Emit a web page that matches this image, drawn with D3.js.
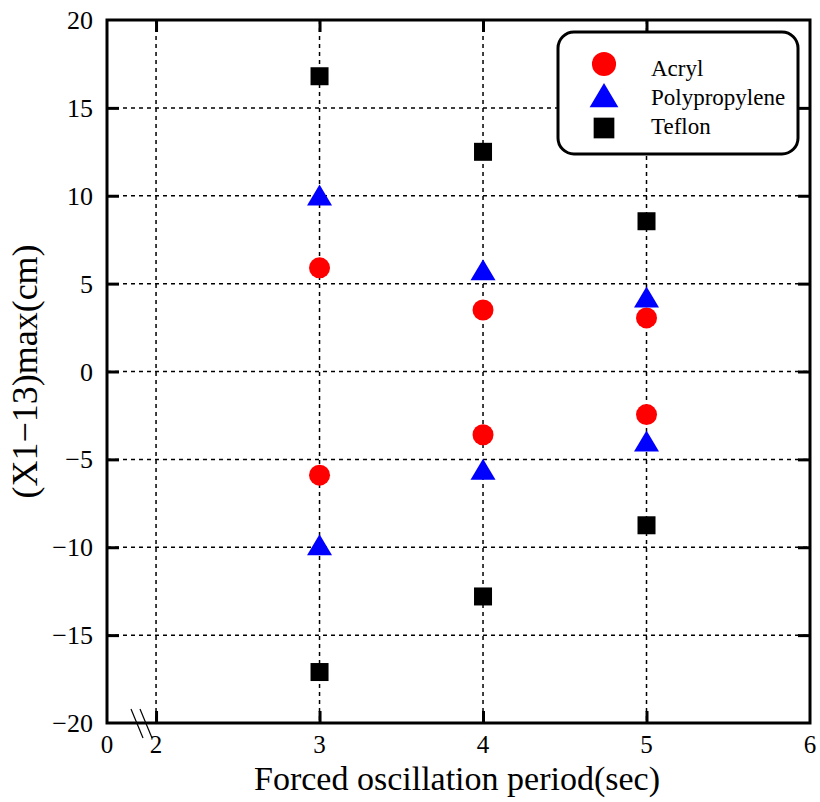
<!DOCTYPE html>
<html>
<head>
<meta charset="utf-8">
<script src="https://cdn.jsdelivr.net/npm/d3@7"></script>
<style>
  body { margin: 0; background: #fff; }
  svg text { font-family: "Liberation Serif", "DejaVu Serif", serif; }
</style>
</head>
<body>
<div id="chart"></div>
<script>
// periods and peak amplitudes (positive and negative side)
const periods = [3, 4, 5];
const acrylPos = [5.9, 3.5, 3.05];
const acrylNeg = [-5.9, -3.6, -2.45];
const polyPos = [9.9, 5.65, 4.1];
const polyNeg = [-10.0, -5.7, -4.1];
const teflonPos = [16.8, 12.5, 8.55];
const teflonNeg = [-17.1, -12.8, -8.75];

const xTicks = [2, 3, 4, 5, 6];
const yTicks = [-20, -15, -10, -5, 0, 5, 10, 15, 20];
const series = [
  {name: "Acryl", color: "red", shape: "circle", pos: acrylPos, neg: acrylNeg},
  {name: "Polypropylene", color: "blue", shape: "triangle", pos: polyPos, neg: polyNeg},
  {name: "Teflon", color: "black", shape: "square", pos: teflonPos, neg: teflonNeg}
];

const W = 820, H = 802;
const m = {left: 107, right: 10, top: 20, bottom: 79};
const svg = d3.select("#chart").append("svg").attr("width", W).attr("height", H);

const x = d3.scaleLinear().domain([1.7, 6]).range([m.left, W - m.right]);
const y = d3.scaleLinear().domain([-20, 20]).range([H - m.bottom, m.top]);

// dashed grid
svg.append("g").selectAll("line").data(xTicks.filter(d => d < 6)).enter().append("line")
  .attr("x1", d => x(d)).attr("x2", d => x(d))
  .attr("y1", y(20)).attr("y2", y(-20))
  .attr("stroke", "#000").attr("stroke-width", 1.5).attr("stroke-dasharray", "4,4");
svg.append("g").selectAll("line").data(yTicks.filter(d => d > -20 && d < 20)).enter().append("line")
  .attr("x1", x(1.7)).attr("x2", x(6))
  .attr("y1", d => y(d)).attr("y2", d => y(d))
  .attr("stroke", "#000").attr("stroke-width", 1.5).attr("stroke-dasharray", "4,4");

// axes with inward ticks, mirrored on top/right
const tl = 12;
svg.append("g").attr("transform", `translate(0,${y(-20)})`)
  .call(d3.axisBottom(x).tickValues(xTicks.slice(0, 4)).tickSize(-tl).tickFormat(""))
  .call(g => g.select(".domain").remove());
svg.append("g").attr("transform", `translate(0,${y(20)})`)
  .call(d3.axisTop(x).tickValues(xTicks.slice(0, 4)).tickSize(-tl).tickFormat(""))
  .call(g => g.select(".domain").remove());
svg.append("g").attr("transform", `translate(${x(1.7)},0)`)
  .call(d3.axisLeft(y).tickValues(yTicks.slice(1, -1)).tickSize(-tl).tickFormat(""))
  .call(g => g.select(".domain").remove());
svg.append("g").attr("transform", `translate(${x(6)},0)`)
  .call(d3.axisRight(y).tickValues(yTicks.slice(1, -1)).tickSize(-tl).tickFormat(""))
  .call(g => g.select(".domain").remove());
svg.selectAll(".tick line").attr("stroke", "#000").attr("stroke-width", 3);

// frame
svg.append("rect")
  .attr("x", x(1.7)).attr("y", y(20))
  .attr("width", x(6) - x(1.7)).attr("height", y(-20) - y(20))
  .attr("fill", "none").attr("stroke", "#000").attr("stroke-width", 3);

// tick labels
const xLabels = [{v: 1.7, t: "0"}].concat(xTicks.map(v => ({v: v, t: String(v)})));
svg.append("g").selectAll("text").data(xLabels).enter().append("text")
  .attr("x", d => x(d.v)).attr("y", y(-20) + 30)
  .attr("text-anchor", "middle").attr("font-size", 25).text(d => d.t);
svg.append("g").selectAll("text").data(yTicks).enter().append("text")
  .attr("x", x(1.7) - 14).attr("y", d => y(d) + 9)
  .attr("text-anchor", "end").attr("font-size", 26)
  .text(d => d < 0 ? "\u2212" + Math.abs(d) : d);

// axis break marks
svg.append("g").selectAll("line").data([0, 9]).enter().append("line")
  .attr("x1", d => 131 + d).attr("y1", y(-20) - 14)
  .attr("x2", d => 143 + d).attr("y2", y(-20) + 15)
  .attr("stroke", "#000").attr("stroke-width", 1.2);

// axis titles
svg.append("text").attr("x", 457).attr("y", 790)
  .attr("text-anchor", "middle").attr("font-size", 34).text("Forced oscillation period(sec)");
svg.append("text").attr("transform", `translate(37,${y(0)}) rotate(-90)`)
  .attr("text-anchor", "middle").attr("font-size", 36).text("(X1\u221213)max(cm)");

// markers
function drawMark(g, shape, color, k) {
  if (shape === "circle") g.append("circle").attr("r", 10.5 * k).attr("fill", color);
  else if (shape === "triangle") g.append("path")
    .attr("d", `M0,${-13 * k}L${12.5 * k},${8 * k}L${-12.5 * k},${8 * k}Z`).attr("fill", color);
  else g.append("rect").attr("x", -9 * k).attr("y", -9 * k)
    .attr("width", 18 * k).attr("height", 18 * k).attr("fill", color);
}
series.forEach(s => {
  const pts = periods.map((p, i) => [p, s.pos[i]]).concat(periods.map((p, i) => [p, s.neg[i]]));
  pts.forEach(d => {
    const g = svg.append("g").attr("transform", `translate(${x(d[0])},${y(d[1])})`);
    drawMark(g, s.shape, s.color, 1);
  });
});

// legend
const lg = svg.append("g");
lg.append("rect").attr("x", 558).attr("y", 32).attr("width", 240).attr("height", 122)
  .attr("rx", 16).attr("fill", "#fff").attr("stroke", "#000").attr("stroke-width", 3);
const markY = [64, 98, 128], textY = [76, 105, 134];
series.forEach((s, i) => {
  drawMark(lg.append("g").attr("transform", `translate(604,${markY[i]})`), s.shape, s.color, 1.15);
  lg.append("text").attr("x", 651).attr("y", textY[i]).attr("font-size", 23).text(s.name);
});
</script>
</body>
</html>
